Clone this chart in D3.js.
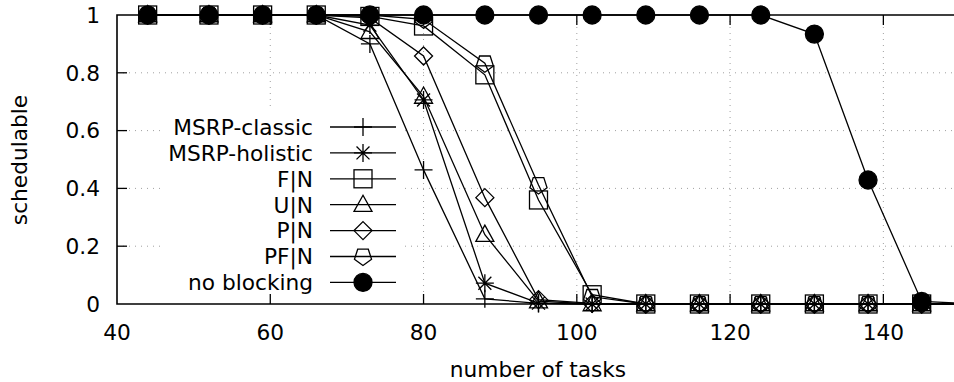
<!DOCTYPE html>
<html lang="en">
  <head>
    <meta charset="UTF-8" />
    <title>schedulable vs number of tasks</title>
    <script src="https://d3js.org/d3.v7.min.js"></script>
    <style>
      body { margin: 0; background: #fff; }
      svg { display: block; font-family: "DejaVu Sans", sans-serif; }
      .tick-label { font-size: 21.7px; fill: #000; }
      .legend_text { font-size: 21.7px; fill: #000; }
    </style>
  </head>
  <body>
    <svg width="954" height="382"></svg>
    <script>
      // number of tasks (last point lies past the right edge)
      const tasks = [44, 52, 59, 66, 73, 80, 88, 95, 102, 109, 116, 124, 131, 138, 145, 152];

      const msrpClassic  = [1, 1, 1, 1, 0.90, 0.464, 0.018, 0.002, 0, 0, 0, 0, 0, 0, 0, 0];
      const msrpHolistic = [1, 1, 1, 1, 0.965, 0.706, 0.072, 0.003, 0, 0, 0, 0, 0, 0, 0, 0];
      const fN           = [1, 1, 1, 1, 0.995, 0.962, 0.793, 0.36, 0.032, 0, 0, 0, 0, 0, 0, 0];
      const uN           = [1, 1, 1, 1, 0.942, 0.718, 0.24, 0.01, 0, 0, 0, 0, 0, 0, 0, 0];
      const pN           = [1, 1, 1, 1, 0.99, 0.858, 0.368, 0.015, 0.002, 0, 0, 0, 0, 0, 0, 0];
      const pfN          = [1, 1, 1, 1, 1, 0.985, 0.833, 0.412, 0.025, 0, 0, 0, 0, 0, 0, 0];
      const noBlocking   = [1, 1, 1, 1, 1, 1, 1, 1, 1, 1, 1, 1, 0.934, 0.429, 0.009, 0];

      const seriesNames = ["MSRP-classic", "MSRP-holistic", "F|N", "U|N", "P|N", "PF|N", "no blocking"];
      const seriesValues = [msrpClassic, msrpHolistic, fN, uN, pN, pfN, noBlocking];
      const seriesMarkers = ["plus", "star", "square", "triangle", "diamond", "pentagon", "circle"];

      const xTicks = [40, 60, 80, 100, 120, 140];
      const yTicks = [0, 0.2, 0.4, 0.6, 0.8, 1];

      const svg = d3.select("svg");
      const plotLeft = 117, plotRight = 960, plotTop = 15, plotBottom = 304;

      const x = d3.scaleLinear().domain([40, 150]).range([plotLeft, plotRight]);
      const y = d3.scaleLinear().domain([0, 1]).range([plotBottom, plotTop]);

      // grid
      const grid = svg.append("g")
        .attr("stroke", "#a0a0a0")
        .attr("stroke-width", 1)
        .attr("stroke-dasharray", "1,5");
      grid.selectAll(".gx").data(xTicks.slice(1))
        .join("line")
        .attr("x1", d => x(d)).attr("x2", d => x(d))
        .attr("y1", plotTop).attr("y2", plotBottom);
      grid.selectAll(".gy").data(yTicks.slice(1, -1))
        .join("line")
        .attr("x1", plotLeft).attr("x2", plotRight)
        .attr("y1", d => y(d)).attr("y2", d => y(d));

      // opaque key background
      const keyRight = 313, sampleX1 = 330, sampleX2 = 396, keyTop = 127, keyStep = 25.9;
      svg.append("rect")
        .attr("x", 160).attr("y", keyTop - 17)
        .attr("width", sampleX2 + 9 - 160)
        .attr("height", keyStep * 6 + 34)
        .attr("fill", "#fff");

      // marker shapes
      function marker(g, type) {
        const s = 9;
        if (type === "plus") {
          g.append("path").attr("d", `M${-s},0H${s}M0,${-s}V${s}`);
        } else if (type === "star") {
          const a = s * 0.72;
          g.append("path").attr("d",
            `M${-s},0H${s}M0,${-s}V${s}M${-a},${-a}L${a},${a}M${-a},${a}L${a},${-a}`);
        } else if (type === "square") {
          g.append("rect").attr("x", -s).attr("y", -s).attr("width", 2 * s).attr("height", 2 * s);
        } else if (type === "triangle") {
          g.append("path").attr("d", `M0,${-s * 1.05}L${s},${s * 0.75}H${-s}Z`);
        } else if (type === "diamond") {
          g.append("path").attr("d", `M0,${-s}L${s},0L0,${s}L${-s},0Z`);
        } else if (type === "pentagon") {
          const pts = d3.range(5).map(i => {
            const ang = Math.PI / 2 + i * 2 * Math.PI / 5;
            return [s * Math.cos(ang), s * Math.sin(ang)];
          });
          g.append("path").attr("d", "M" + pts.map(p => p.join(",")).join("L") + "Z");
        } else if (type === "circle") {
          g.append("circle").attr("r", s).attr("fill", "#000");
        }
      }

      const line = d3.line().x((d, i) => x(tasks[i])).y(d => y(d));

      const plots = svg.append("g");
      seriesValues.forEach((vals, k) => {
        const g = plots.append("g")
          .attr("fill", "none").attr("stroke", "#000").attr("stroke-width", 1.3);
        g.append("path").attr("d", line(vals));
        vals.forEach((v, i) => {
          const m = g.append("g").attr("transform", `translate(${x(tasks[i])},${y(v)})`);
          marker(m, seriesMarkers[k]);
        });
      });

      // key entries
      const key = svg.append("g");
      seriesNames.forEach((name, k) => {
        const yy = keyTop + k * keyStep;
        key.append("text")
          .attr("class", "legend_text")
          .attr("x", keyRight).attr("y", yy)
          .attr("dy", "0.36em")
          .attr("text-anchor", "end")
          .text(name);
        const g = key.append("g")
          .attr("fill", "none").attr("stroke", "#000").attr("stroke-width", 1.3);
        g.append("line").attr("x1", sampleX1).attr("x2", sampleX2).attr("y1", yy).attr("y2", yy);
        const m = g.append("g").attr("transform", `translate(${(sampleX1 + sampleX2) / 2},${yy})`);
        marker(m, seriesMarkers[k]);
      });

      // border
      svg.append("path")
        .attr("d", `M${plotRight},${plotTop}H${plotLeft}V${plotBottom}H${plotRight}`)
        .attr("fill", "none").attr("stroke", "#000").attr("stroke-width", 1.6);

      // ticks (inward, mirrored on top)
      const ticks = svg.append("g").attr("stroke", "#000").attr("stroke-width", 1.3);
      ticks.selectAll(".tb").data(xTicks.slice(1)).join("line")
        .attr("x1", d => x(d)).attr("x2", d => x(d))
        .attr("y1", plotBottom).attr("y2", plotBottom - 10);
      ticks.selectAll(".tt").data(xTicks.slice(1)).join("line")
        .attr("x1", d => x(d)).attr("x2", d => x(d))
        .attr("y1", plotTop).attr("y2", plotTop + 10);
      ticks.selectAll(".tl").data(yTicks.slice(1, -1)).join("line")
        .attr("x1", plotLeft).attr("x2", plotLeft + 10)
        .attr("y1", d => y(d)).attr("y2", d => y(d));

      // tick labels
      svg.append("g").selectAll("text").data(xTicks).join("text")
        .attr("class", "tick-label")
        .attr("x", d => x(d)).attr("y", 340)
        .attr("text-anchor", "middle")
        .text(d => d);
      svg.append("g").selectAll("text").data(yTicks).join("text")
        .attr("class", "tick-label")
        .attr("x", 100).attr("y", d => y(d))
        .attr("dy", "0.36em")
        .attr("text-anchor", "end")
        .text(d => d3.format("~g")(d));

      // axis titles
      svg.append("text")
        .attr("class", "tick-label")
        .attr("x", 538).attr("y", 377)
        .attr("text-anchor", "middle")
        .text("number of tasks");
      svg.append("text")
        .attr("class", "tick-label")
        .attr("transform", "translate(27,160) rotate(-90)")
        .attr("text-anchor", "middle")
        .text("schedulable");
    </script>
  </body>
</html>
